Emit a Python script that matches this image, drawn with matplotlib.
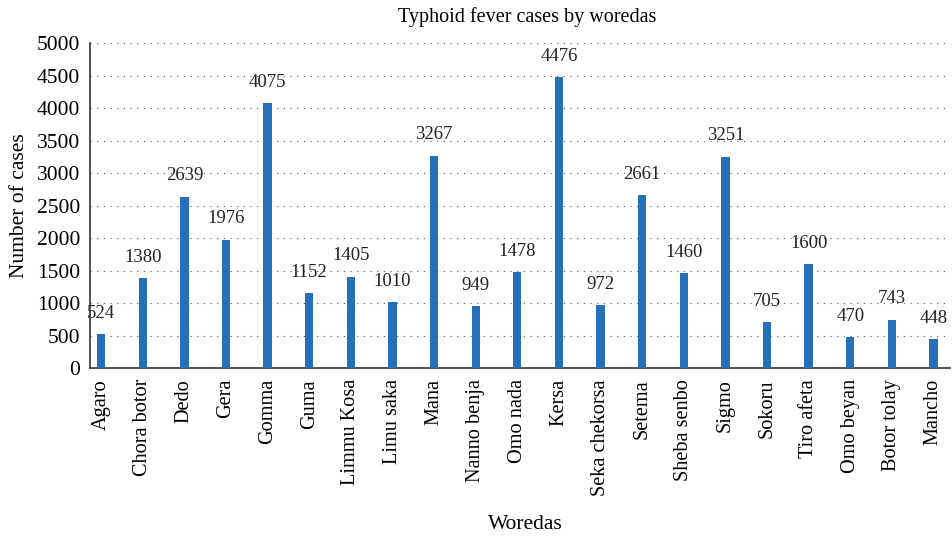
import matplotlib
matplotlib.use('Agg')
from matplotlib import pyplot as plt

woredas = ['Agaro', 'Chora botor', 'Dedo', 'Gera', 'Gomma', 'Guma', 'Limmu Kosa',
           'Limu saka', 'Mana', 'Nanno benja', 'Omo nada', 'Kersa', 'Seka chekorsa',
           'Setema', 'Sheba senbo', 'Sigmo', 'Sokoru', 'Tiro afeta', 'Omo beyan',
           'Botor tolay', 'Mancho']
cases = [524, 1380, 2639, 1976, 4075, 1152, 1405, 1010, 3267, 949, 1478, 4476,
         972, 2661, 1460, 3251, 705, 1600, 470, 743, 448]

plt.rcParams['font.family'] = ['Liberation Serif', 'DejaVu Serif']

fig = plt.figure(figsize=(9.52, 5.4), dpi=100)
ax = fig.add_axes([0.0945, 0.3185, 0.9035, 0.6015])

x = list(range(len(woredas)))
bars = ax.bar(x, cases, width=0.2, color='#2570b8', zorder=3)
# value labels above each bar
for xi, v in zip(x, cases):
    ax.text(xi, v + 190, str(v), ha='center', va='bottom', fontsize=13.5, color='#222222')

ax.set_xlim(-0.27, 20.4)
ax.set_ylim(0, 5000)
ax.set_yticks(range(0, 5001, 500))
ax.set_xticks(x)
ax.set_xticklabels(woredas, rotation=90, fontsize=14.6)
ax.tick_params(axis='y', labelsize=15.5, length=0, pad=7)
ax.tick_params(axis='x', length=0, pad=8)
ax.yaxis.grid(True, linestyle=(0, (1, 5)), color='#555555', linewidth=0.8, zorder=0)
for s in ['top', 'right']:
    ax.spines[s].set_visible(False)
ax.spines['left'].set_color('#333333')
ax.spines['bottom'].set_color('#333333')
ax.spines['left'].set_linewidth(1.2)
ax.spines['bottom'].set_linewidth(1.2)

fig.text(0.554, 0.968, 'Typhoid fever cases by woredas', ha='center', va='center', fontsize=14.5)
ax.set_ylabel('Number of cases', fontsize=15.5, labelpad=6)
fig.text(0.552, 0.028, 'Woredas', ha='center', va='center', fontsize=15.5)

fig.savefig('out.png', dpi=100)
